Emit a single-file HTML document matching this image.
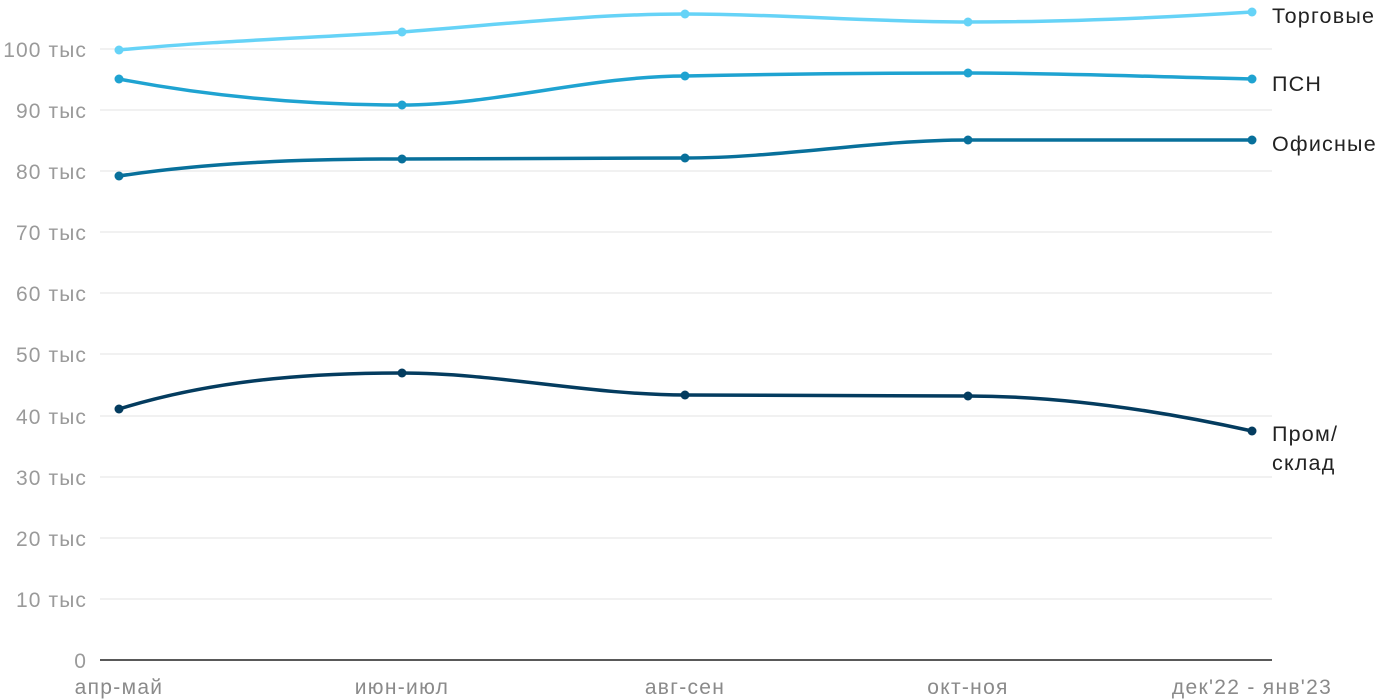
<!DOCTYPE html>
<html><head><meta charset="utf-8"><style>
body{margin:0;background:#fff;}
svg{display:block;font-family:"Liberation Sans",sans-serif;}
.yt{fill:#9a9a9a;font-size:21px;letter-spacing:1.1px;text-anchor:end;}
.xt{fill:#8a8a8a;font-size:21px;letter-spacing:1.3px;text-anchor:middle;}
.lb{fill:#222;font-size:21.5px;letter-spacing:1.2px;}
</style></head><body>
<svg width="1400" height="700" viewBox="0 0 1400 700">
<g stroke="#e3e3e3" stroke-width="1">
<line x1="100" x2="1272" y1="49" y2="49"/><line x1="100" x2="1272" y1="110" y2="110"/>
<line x1="100" x2="1272" y1="171" y2="171"/><line x1="100" x2="1272" y1="232" y2="232"/>
<line x1="100" x2="1272" y1="293" y2="293"/><line x1="100" x2="1272" y1="354" y2="354"/>
<line x1="100" x2="1272" y1="416" y2="416"/><line x1="100" x2="1272" y1="477" y2="477"/>
<line x1="100" x2="1272" y1="538" y2="538"/><line x1="100" x2="1272" y1="599" y2="599"/>
</g>
<line x1="100" x2="1272" y1="660" y2="660" stroke="#222" stroke-width="1.5"/>
<g class="yt">
<text x="87" y="57">100 тыс</text><text x="87" y="118">90 тыс</text><text x="87" y="179">80 тыс</text>
<text x="87" y="240">70 тыс</text><text x="87" y="301">60 тыс</text><text x="87" y="362">50 тыс</text>
<text x="87" y="424">40 тыс</text><text x="87" y="485">30 тыс</text><text x="87" y="546">20 тыс</text>
<text x="87" y="607">10 тыс</text><text x="87" y="668">0</text>
</g>
<g class="xt">
<text x="119" y="694">апр-май</text><text x="402" y="694">июн-июл</text><text x="685" y="694">авг-сен</text>
<text x="968" y="694">окт-ноя</text><text x="1252" y="694">дек'22 - янв'23</text>
</g>
<g fill="none" stroke-width="3.5">
<path stroke="#66d3f7" d="M119,50 C213,41 308,38 402,32 C496,25 591,14 685,14 C779,14 874,22 968,22 C1062,22 1157,18 1252,12"/>
<path stroke="#1fa3d1" d="M119,79 C213,97 308,105 402,105 C496,105 591,76 685,76 C779,74 874,73 968,73 C1062,73 1157,77 1252,79"/>
<path stroke="#08709b" d="M119,176 C213,162 308,159 402,159 C496,159 591,158 685,158 C779,158 874,140 968,140 C1062,140 1157,140 1252,140"/>
<path stroke="#043c5f" d="M119,409 C213,380 308,373 402,373 C496,373 591,395 685,395 C779,395 874,396 968,396 C1062,396 1157,410 1252,431"/>
</g>
<g fill="#66d3f7"><circle cx="119" cy="50" r="4.5"/><circle cx="402" cy="32" r="4.5"/><circle cx="685" cy="14" r="4.5"/><circle cx="968" cy="22" r="4.5"/><circle cx="1252" cy="12" r="4.5"/></g>
<g fill="#1fa3d1"><circle cx="119" cy="79" r="4.5"/><circle cx="402" cy="105" r="4.5"/><circle cx="685" cy="76" r="4.5"/><circle cx="968" cy="73" r="4.5"/><circle cx="1252" cy="79" r="4.5"/></g>
<g fill="#08709b"><circle cx="119" cy="176" r="4.5"/><circle cx="402" cy="159" r="4.5"/><circle cx="685" cy="158" r="4.5"/><circle cx="968" cy="140" r="4.5"/><circle cx="1252" cy="140" r="4.5"/></g>
<g fill="#043c5f"><circle cx="119" cy="409" r="4.5"/><circle cx="402" cy="373" r="4.5"/><circle cx="685" cy="395" r="4.5"/><circle cx="968" cy="396" r="4.5"/><circle cx="1252" cy="431" r="4.5"/></g>
<g class="lb">
<text x="1272" y="23">Торговые</text><text x="1272" y="91">ПСН</text><text x="1272" y="151">Офисные</text>
<text x="1272" y="441">Пром/</text><text x="1272" y="470">склад</text>
</g>
</svg>
</body></html>
